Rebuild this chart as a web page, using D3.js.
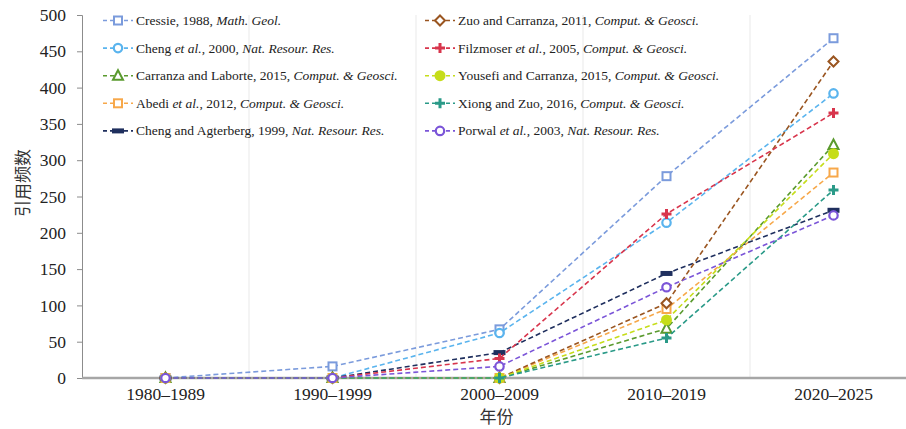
<!DOCTYPE html>
<html>
<head>
<meta charset="utf-8">
<script src="https://cdn.jsdelivr.net/npm/d3@7"></script>
<style>
  body { margin: 0; background: #ffffff; }
  svg { display: block; }
</style>
</head>
<body>
<svg id="chart" width="906" height="429"></svg>
<script>
// categories and series
const categories = ["1980–1989", "1990–1999", "2000–2009", "2010–2019", "2020–2025"];
const yTicks = [0, 50, 100, 150, 200, 250, 300, 350, 400, 450, 500];

const cressie = [0, 16, 67, 278, 468];
const chengEtAl = [0, 0, 62, 214, 392];
const carranzaLaborte = [0, 0, 0, 68, 321];
const abedi = [0, 0, 0, 95, 283];
const chengAgterberg = [0, 0, 35, 144, 231];
const zuoCarranza = [0, 0, 0, 103, 436];
const filzmoser = [0, 0, 27, 226, 365];
const yousefi = [0, 0, 0, 80, 309];
const xiongZuo = [0, 0, 0, 55, 259];
const porwal = [0, 0, 16, 125, 224];

// legend label pieces: [text, italic?]
const series = [
    { values: cressie, color: "#7b9bdc", marker: "square", label: [["Cressie, 1988, ", false], ["Math. Geol.", true]] },
    { values: chengEtAl, color: "#5ab4ee", marker: "circle", label: [["Cheng ", false], ["et al.", true], [", 2000, ", false], ["Nat. Resour. Res.", true]] },
    { values: carranzaLaborte, color: "#5a9a2e", marker: "triangle", label: [["Carranza and Laborte, 2015, ", false], ["Comput. & Geosci.", true]] },
    { values: abedi, color: "#f7a84a", marker: "square", label: [["Abedi ", false], ["et al.", true], [", 2012, ", false], ["Comput. & Geosci.", true]] },
    { values: chengAgterberg, color: "#1f2f5e", marker: "bar", label: [["Cheng and Agterberg, 1999, ", false], ["Nat. Resour. Res.", true]] },
    { values: zuoCarranza, color: "#9a5520", marker: "diamond", label: [["Zuo and Carranza, 2011, ", false], ["Comput. & Geosci.", true]] },
    { values: filzmoser, color: "#d8354c", marker: "plus", label: [["Filzmoser ", false], ["et al.", true], [", 2005, ", false], ["Comput. & Geosci.", true]] },
    { values: yousefi, color: "#c6dd1a", marker: "dot", label: [["Yousefi and Carranza, 2015, ", false], ["Comput. & Geosci.", true]] },
    { values: xiongZuo, color: "#2a9a88", marker: "plus", label: [["Xiong and Zuo, 2016, ", false], ["Comput. & Geosci.", true]] },
    { values: porwal, color: "#7b55d8", marker: "circle", label: [["Porwal ", false], ["et al.", true], [", 2003, ", false], ["Nat. Resour. Res.", true]] }
];

const svg = d3.select("#chart");
const plotLeft = 82, plotRight = 917, plotTop = 15, plotBottom = 378;
const serif = "'Liberation Serif', 'Times New Roman', serif";
const cjk = "'Noto Sans CJK SC', sans-serif";

const x = d3.scaleBand().domain(categories).range([plotLeft, plotRight]).padding(0);
const y = d3.scaleLinear().domain([0, 500]).range([plotBottom, plotTop]);
const cx = (c) => x(c) + x.bandwidth() / 2;

// vertical separators between categories
svg.append("g")
    .selectAll("line")
    .data(categories.slice(1))
    .join("line")
    .attr("x1", (d) => x(d))
    .attr("x2", (d) => x(d))
    .attr("y1", plotTop)
    .attr("y2", plotBottom)
    .attr("stroke", "#e9e9e9")
    .attr("stroke-width", 1);

// y axis
const yAxis = svg.append("g")
    .attr("transform", `translate(${plotLeft},0)`)
    .call(d3.axisLeft(y).tickValues(yTicks).tickSizeOuter(0).tickSize(5).tickPadding(11));
yAxis.select(".domain").attr("stroke", "#8c8c8c");
yAxis.selectAll(".tick line").attr("stroke", "#8c8c8c");
yAxis.selectAll(".tick text")
    .attr("fill", "#222")
    .style("font-family", serif)
    .style("font-size", "17.5px");

// x axis
const xAxis = svg.append("g")
    .attr("transform", `translate(0,${plotBottom})`)
    .call(d3.axisBottom(x).tickSize(0).tickPadding(10));
xAxis.select(".domain").attr("stroke", "#a6a6a6").attr("stroke-width", 2.5)
    .attr("d", `M${plotLeft},0H906`);
xAxis.selectAll(".tick text")
    .attr("fill", "#222")
    .style("font-family", serif)
    .style("font-size", "17.5px");

// axis titles
svg.append("text")
    .attr("transform", `translate(29,183) rotate(-90)`)
    .attr("text-anchor", "middle")
    .style("font-family", cjk)
    .style("font-size", "17px")
    .attr("fill", "#333")
    .text("引用频数");

svg.append("text")
    .attr("x", cx("2000–2009") - 3)
    .attr("y", 423)
    .attr("text-anchor", "middle")
    .style("font-family", cjk)
    .style("font-size", "17px")
    .attr("fill", "#333")
    .text("年份");

const drawMarker = (g, type, color) => {
    if (type === "square") {
        g.append("rect").attr("x", -4).attr("y", -4).attr("width", 8).attr("height", 8)
            .attr("fill", "#fff").attr("stroke", color).attr("stroke-width", 2);
    } else if (type === "circle") {
        g.append("circle").attr("r", 4.2)
            .attr("fill", "#fff").attr("stroke", color).attr("stroke-width", 2.2);
    } else if (type === "triangle") {
        g.append("path").attr("d", "M0,-5.5L5,4L-5,4Z")
            .attr("fill", "#fff").attr("stroke", color).attr("stroke-width", 2);
    } else if (type === "diamond") {
        g.append("path").attr("d", "M0,-5L5,0L0,5L-5,0Z")
            .attr("fill", "#fff").attr("stroke", color).attr("stroke-width", 2);
    } else if (type === "plus") {
        g.append("path").attr("d", "M-5,0H5M0,-5V5")
            .attr("stroke", color).attr("stroke-width", 3);
    } else if (type === "dot") {
        g.append("circle").attr("r", 5.5).attr("fill", color);
    } else if (type === "bar") {
        g.append("rect").attr("x", -6).attr("y", -2.5).attr("width", 12).attr("height", 5)
            .attr("fill", color);
    }
};

// series lines and markers
const line = d3.line()
    .x((d, i) => cx(categories[i]))
    .y((d) => y(d));

series.forEach((s) => {
    const g = svg.append("g");
    g.append("path")
        .datum(s.values)
        .attr("d", line)
        .attr("fill", "none")
        .attr("stroke", s.color)
        .attr("stroke-width", 1.6)
        .attr("stroke-dasharray", "5,3");
    g.selectAll(".pt")
        .data(s.values)
        .join("g")
        .attr("class", "pt")
        .attr("transform", (d, i) => `translate(${cx(categories[i])},${y(d)})`)
        .each(function () { drawMarker(d3.select(this), s.marker, s.color); });
});

// legend, two columns of five
const legend = svg.append("g");
series.forEach((s, i) => {
    const col = Math.floor(i / 5), row = i % 5;
    const lx = col === 0 ? 103 : 425;
    const ly = 20.5 + row * 27.6;
    const item = legend.append("g").attr("transform", `translate(${lx},${ly})`);
    item.append("line")
        .attr("x1", 0).attr("x2", 30).attr("y1", 0).attr("y2", 0)
        .attr("stroke", s.color).attr("stroke-width", 1.6).attr("stroke-dasharray", "4,3");
    const m = item.append("g").attr("transform", "translate(15,0)");
    drawMarker(m, s.marker, s.color);
    const t = item.append("text")
        .attr("x", 33)
        .attr("y", 4.5)
        .style("font-family", serif)
        .style("font-size", "13.5px")
        .attr("fill", "#222");
    t.selectAll("tspan")
        .data(s.label)
        .join("tspan")
        .style("font-style", (d) => d[1] ? "italic" : "normal")
        .text((d) => d[0]);
});
</script>
</body>
</html>
